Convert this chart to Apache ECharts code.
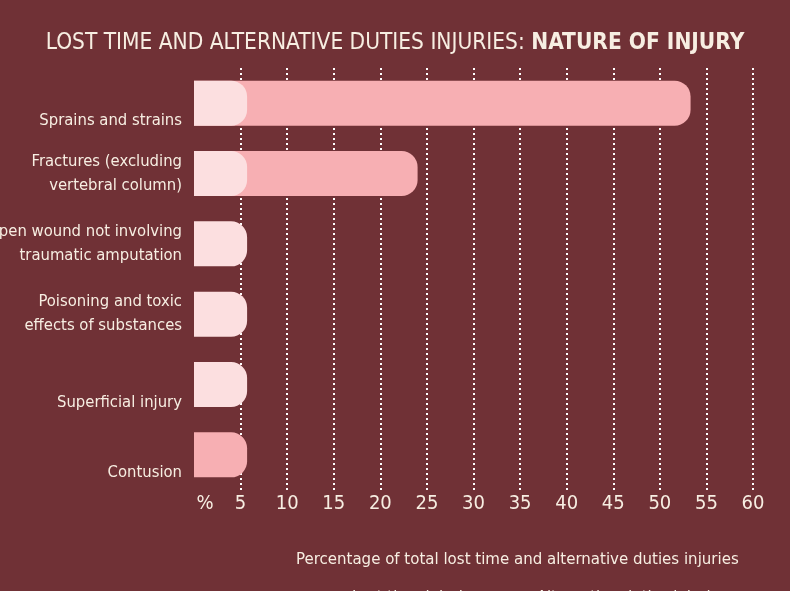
<!DOCTYPE html>
<html>
<head>
<meta charset="utf-8">
<script src="https://cdn.jsdelivr.net/npm/echarts@6/dist/echarts.min.js"></script>
<style>
  html, body { margin: 0; padding: 0; background: #703136; }
  #chart { width: 790px; height: 591px; }
</style>
</head>
<body>
<div id="chart"></div>
<script>
// nature of injury, % of total lost time and alternative duties injuries
var categories = [
    'Sprains and strains',
    'Fractures (excluding\nvertebral column)',
    'Open wound not involving\ntraumatic amputation',
    'Poisoning and toxic\neffects of substances',
    'Superficial injury',
    'Contusion'
];
var lostTime = [53.3, 24.0, 0, 0, 0, 5.7];
var altDuties = [5.7, 5.7, 5.7, 5.7, 5.7, null];

var FONT = "'Liberation Sans Narrow', 'DejaVu Sans Condensed', sans-serif";
var TXT = '#f7eee2';

var myChart = echarts.init(document.getElementById('chart'));

var option = {
    backgroundColor: '#703136',
    animation: false,
    title: {
        text: '{a|LOST TIME AND ALTERNATIVE DUTIES INJURIES: }{b|NATURE OF INJURY}',
        left: 'center',
        top: 27,
        textStyle: {
            rich: {
                a: { color: TXT, fontFamily: FONT, fontSize: 22.5, fontWeight: 'normal' },
                b: { color: TXT, fontFamily: FONT, fontSize: 22.5, fontWeight: 'bold' }
            }
        }
    },
    grid: {
        left: 194,
        right: 37,
        top: 68,
        bottom: 101,
        containLabel: false,
        outerBoundsMode: 'none'
    },
    xAxis: {
        type: 'value',
        min: 0,
        max: 60,
        interval: 5,
        axisLine: { show: false },
        axisTick: { show: false },
        axisLabel: {
            color: TXT,
            fontFamily: FONT,
            fontSize: 20,
            margin: 4,
            formatter: function (v) {
                return v === 0 ? '{p|%}' : v;
            },
            rich: {
                p: { color: TXT, fontFamily: FONT, fontSize: 20, padding: [0, 0, 0, 22] }
            }
        },
        splitLine: {
            show: true,
            showMinLine: false,
            lineStyle: { color: '#ffffff', width: 2, type: [2, 3] }
        }
    },
    yAxis: {
        type: 'category',
        data: categories,
        inverse: true,
        axisLine: { show: false },
        axisTick: { show: false },
        axisLabel: {
            color: TXT,
            fontFamily: FONT,
            fontSize: 16.5,
            lineHeight: 24,
            margin: 12,
            align: 'right',
            formatter: function (v) {
                // single-line labels sit low in the band
                return v.indexOf('\n') < 0 ? '{o|' + v + '}' : v;
            },
            rich: {
                o: { color: TXT, fontFamily: FONT, fontSize: 16.5, padding: [36, 0, 0, 0] }
            }
        }
    },
    legend: {
        data: ['Lost time injuries', 'Alternative duties injuries'],
        left: 330,
        top: 584,
        itemGap: 40,
        itemWidth: 12,
        itemHeight: 8,
        textStyle: { color: TXT, fontFamily: FONT, fontSize: 16.5 }
    },
    graphic: [{
        type: 'text',
        left: 296,
        top: 551,
        style: {
            text: 'Percentage of total lost time and alternative duties injuries',
            fill: TXT,
            font: '16.7px ' + FONT
        }
    }],
    series: [
        {
            name: 'Lost time injuries',
            type: 'bar',
            barWidth: 45,
            barGap: '-100%',
            itemStyle: { color: '#f7afb3', borderRadius: [0, 16, 16, 0] },
            data: lostTime
        },
        {
            name: 'Alternative duties injuries',
            type: 'bar',
            barWidth: 45,
            barGap: '-100%',
            itemStyle: { color: '#fcdfe0', borderRadius: [0, 16, 16, 0] },
            data: altDuties
        }
    ]
};

myChart.setOption(option);
</script>
</body>
</html>
